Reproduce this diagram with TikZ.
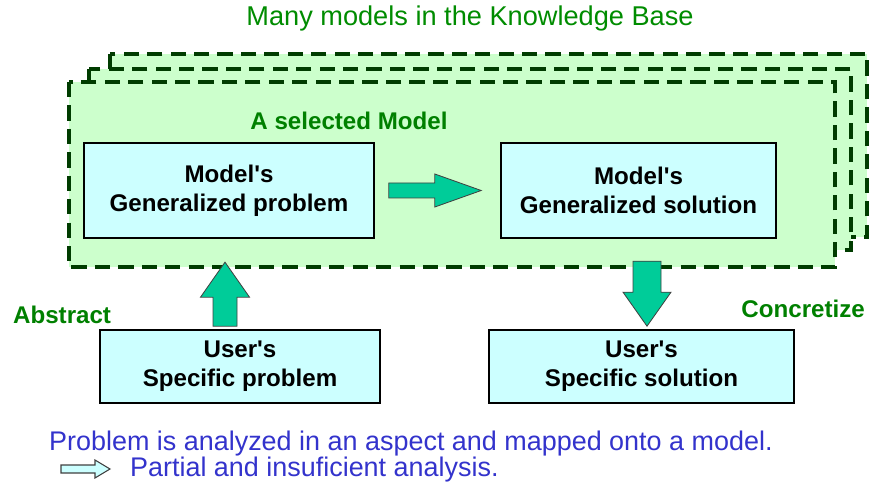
\documentclass[tikz,border=0pt]{standalone}
\usepackage{fontspec}
\setmainfont{Liberation Sans}[Ligatures=TeXOff]
\usetikzlibrary{positioning,calc}

\definecolor{kbgreen}{RGB}{0,140,0}
\definecolor{labelgreen}{RGB}{0,128,0}
\definecolor{framegreen}{RGB}{0,60,0}
\definecolor{layerfill}{RGB}{204,255,204}
\definecolor{boxfill}{RGB}{204,255,255}
\definecolor{arrowfill}{RGB}{0,204,153}
\definecolor{noteblue}{RGB}{51,51,204}

\tikzset{
  layer/.style={draw=framegreen, fill=layerfill, line width=3.2pt, dash pattern=on 13pt off 7pt},
  box/.style={draw=black, fill=boxfill, line width=1.4pt, align=center,
    font=\fontsize{20.6}{25}\selectfont\bfseries},
  blockarrow/.style={draw=black!75, fill=arrowfill, line width=0.7pt, line join=miter},
  greenlabel/.style={text=labelgreen, font=\fontsize{20.6}{25}\selectfont\bfseries},
  note/.style={text=noteblue, font=\fontsize{23}{28}\selectfont, anchor=west},
}

\begin{document}
\begin{tikzpicture}[x=0.03cm,y=-0.03cm]
                \useasboundingbox (0,0) rectangle (869,484);
                \node[text=kbgreen, font=\fontsize{23.2}{28}\selectfont] (kb) at (470,18) {Many models in the Knowledge Base};
                % stack of models, the front one is the selected one
                \draw[layer] (110,54) rectangle (867,237);
                \draw[layer] (89,69) rectangle (851,250);
                \draw[layer] (69,82) rectangle (835,267);
                \node[greenlabel] (sel) at (349,121) {A selected Model};
                \node[box, minimum width=8.7cm, minimum height=2.85cm] (probGen) at (229,190.5) {Model's\\Generalized problem};
                \node[box, minimum width=8.25cm, minimum height=2.85cm] (solGen) at (638.5,190.5) {Model's\\Generalized solution};
                \node[box, minimum width=8.4cm, minimum height=2.19cm] (probUser) at (240,366.5) {User's\\Specific problem};
                \node[box, minimum width=9.15cm, minimum height=2.19cm] (solUser) at (641.5,366.5) {User's\\Specific solution};
                \node[greenlabel, anchor=west] (abs) at (9,315) {Abstract};
                \node[greenlabel, anchor=east] (conc) at (869,309) {Concretize};
                % block arrows
                \coordinate (ha) at ($(probGen.east)+(14,0)$);
                \draw[blockarrow] ($(ha)+(0,-7.5)$) -- ++(46,0) -- ++(0,-9) -- ($(solGen.west)+(-19,0)$)
                    -- ($(ha)+(46,16.5)$) -- ++(0,-9) -- ($(ha)+(0,7.5)$) -- cycle;
                \coordinate (ua) at ($(probUser.north)+(-15,-3)$);
                \draw[blockarrow] ($(ua)+(-12,0)$) -- ++(0,-29) -- ++(-12.5,0) -- ($(ua)+(0,-64)$)
                    -- ($(ua)+(24.5,-29)$) -- ++(-12.5,0) -- ++(0,29) -- cycle;
                \coordinate (da) at ($(solUser.north)+(5.5,-3)$);
                \draw[blockarrow] ($(da)+(-14,-65)$) -- ++(28,0) -- ++(0,31) -- ++(10,0) -- (da)
                    -- ($(da)+(-24,-34)$) -- ++(10,0) -- cycle;
                % notes
                \node[note] (note1) at (45,444) {Problem is analyzed in an aspect and mapped onto a model.};
                \node[note] (note2) at (126,470) {Partial and insuficient analysis.};
                \coordinate (la) at (61,469);
                \draw[draw=black!75, fill=boxfill, line width=0.9pt] ($(la)+(0,-4)$) -- ++(34,0) -- ++(0,-5) -- ($(la)+(49,0)$)
                    -- ($(la)+(34,9)$) -- ++(0,-5) -- ($(la)+(0,4)$) -- cycle;
            \end{tikzpicture}
\end{document}
